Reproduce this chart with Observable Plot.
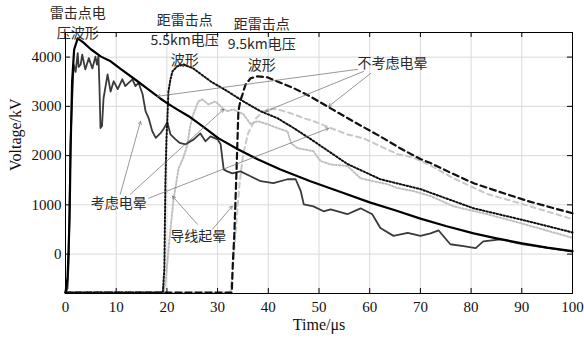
<!DOCTYPE html>
<html><head><meta charset="utf-8">
<script src="https://cdn.jsdelivr.net/npm/d3@7"></script>
<script src="https://cdn.jsdelivr.net/npm/@observablehq/plot@0.6"></script>
<style>body{margin:0;background:#fff}</style>
</head><body><div id="chart"></div>
<script>
// ---- ticks ----
const xTicks = [0,10,20,30,40,50,60,70,80,90,100];
const yTicks = [0,1000,2000,3000,4000];

// ---- 雷击点, 不考虑电晕 (black solid) ----
const strikeT = [0,0.4,0.6,0.8,1.0,1.3,1.7,2.4,3.5,5,7,8.9,11,14.2,16,18.7,20.1,22,24.3,27,30.2,34,38,42.4,48.3,54,60,65,70,75,80.5,85,90,95,100];
const strikeV = [-780,-480,60,730,2100,3500,4150,4380,4300,4160,4010,3915,3750,3510,3370,3160,3060,2940,2800,2600,2350,2130,1920,1720,1480,1270,1050,890,720,570,420,320,220,130,60];

// ---- 雷击点, 考虑电晕 (dark noisy) ----
const strikeCT = [0,0.4,0.6,0.8,1.0,1.3,1.6,2.0,2.4,2.6,3.0,3.3,3.9,4.6,5.3,5.9,6.2,6.5,6.7,6.9,7.2,7.5,8.3,8.9,9.5,10.3,11.2,11.8,12.4,13.2,13.8,14.4,15.2,15.8,16.4,17.1,17.8,18.7,19.4,20.1,20.7,21.7,22.5,23.7,25.3,26.6,27.6,28.6,30,30.6,31.2,31.9,32.9,34.5,36.5,38.5,41,43.8,45.4,46.4,47,48.9,50.9,52.3,55.6,58.2,60.5,62.1,64.7,67.5,70,72,73.6,75.9,78.5,80.9,82.4,85.8,90,95,100];
const strikeCV = [-780,-700,-200,1000,2300,3100,3850,3700,4080,3800,3850,4050,3750,3980,3770,4010,3850,4020,3400,2560,2600,3160,3650,3300,3510,3350,3550,3410,3470,3550,3410,3480,3250,2900,2760,2500,2360,2450,2550,2680,2430,2330,2260,2230,2330,2450,2290,2390,2330,2230,1720,1680,1640,1680,1580,1480,1440,1520,1520,1280,1010,970,870,910,810,930,810,530,370,430,370,420,480,200,160,120,260,300,205,125,50];

// ---- 5.5 km, 不考虑电晕 (black dotted) ----
const d55T = [0,19.2,19.5,19.7,19.9,20.1,20.3,20.7,21.1,22,23.3,25.2,28.6,31.9,35.1,38.5,41.8,45,48.3,55.6,62.1,70,80.5,91.1,100];
const d55V = [-780,-780,-300,1420,2300,2760,3300,3550,3710,3810,3850,3770,3510,3310,3100,2900,2760,2560,2340,1830,1520,1320,930,670,440];

// ---- 9.5 km, 不考虑电晕 (black dashed) ----
const d95T = [0,32.8,33.0,33.3,33.7,34.1,34.5,34.9,35.5,36.5,37.9,39.8,42.4,45,48.3,52.3,57,62.1,66,70,72,76,80.5,86,91.1,96,100];
const d95V = [-780,-780,-200,400,1600,2900,3120,3240,3440,3570,3610,3590,3480,3370,3200,2960,2680,2390,2150,1930,1850,1650,1440,1250,1080,940,830];

// ---- 5.5 km, 考虑电晕 (light dotted) ----
const c55T = [0,19.4,19.8,20.5,21.3,22.3,23.2,24,24.6,25.2,26.2,27,28.2,29.6,31,31.9,33.1,35.1,36.5,37.9,39.8,41.8,43.8,44.5,45.8,48.9,50.3,52.3,55.6,58.2,60.7,63.5,65.5,68.6,72,76.5,83.2,89.7,100];
const c55V = [-780,-780,-500,300,1100,1740,1950,2200,2600,2840,3100,3140,3040,3100,2960,2900,2940,2840,2640,2700,2640,2560,2490,2250,2150,2090,1890,1820,1790,1540,1480,1420,1340,1280,1180,970,810,630,330];

// ---- 9.5 km, 考虑电晕 (light dashed) ----
const c95T = [0,32.5,33,33.6,34.3,35,36,37.5,39,41,42.5,44.4,47,48.9,52.3,55.6,58.8,62.1,65.5,68.6,72,76.5,83.2,89.7,100];
const c95V = [-780,-780,-300,500,1400,2000,2450,2750,2900,2950,2920,2860,2760,2700,2560,2430,2350,2190,2030,1960,1800,1540,1220,1030,710];

// ---- annotation text lines ----
const noteText = ["雷击点电", "压波形", "距雷击点", "5.5km电压", "波形", "距雷击点", "9.5km电压", "波形", "不考虑电晕", "考虑电晕", "导线起晕"];
const noteX = [2.4, 2.4, 23.5, 23.5, 23.5, 38.7, 38.7, 38.7, 64.5, 10.5, 26.2];
const noteY = [4886, 4480, 4744, 4338, 3931, 4662, 4246, 3830, 3873, 1034, 365];

// ---- annotation arrows (from label to curve) ----
const arrowX1 = [57.6, 58.8, 60.2, 10.8, 12.8, 16.4, 26.0, 29.0];
const arrowY1 = [3752, 3711, 3670, 1217, 1217, 1136, 608, 507];
const arrowX2 = [18.1, 39.5, 51.9, 14.8, 31.2, 51.9, 21.1, 32.9];
const arrowY2 = [3204, 2900, 3000, 2697, 2941, 2555, 1176, 973];

function series(t, v) { return t.map((d, i) => ({t: d, v: v[i]})); }
const notes = noteText.map((s, i) => ({s, x: noteX[i], y: noteY[i]}));
const arrows = arrowX1.map((d, i) => ({x1: d, y1: arrowY1[i], x2: arrowX2[i], y2: arrowY2[i]}));

const W = 584, H = 340, mL = 65, mR = 12, mT = 32, mB = 47;
const innerW = W - mL - mR, innerH = H - mT - mB;
const serif = "'Liberation Serif', 'Times New Roman', serif";
const cjk = "'Noto Sans CJK SC', sans-serif";

const chart = Plot.plot({
  width: W, height: H,
  marginLeft: mL, marginRight: mR, marginTop: mT, marginBottom: mB,
  style: {fontFamily: serif, fontSize: "15px", background: "#fff", color: "#111", overflow: "visible"},
  x: {domain: [0, 100], ticks: xTicks},
  y: {domain: [-800, 4500], ticks: yTicks},
  marks: [
    Plot.gridX(xTicks, {stroke: "#dadada", strokeOpacity: 1}),
    Plot.gridY(yTicks, {stroke: "#dadada", strokeOpacity: 1}),
    Plot.line(series(c95T, c95V), {x: "t", y: "v", stroke: "#c8c8c8", strokeWidth: 2, strokeDasharray: "5,4"}),
    Plot.line(series(c55T, c55V), {x: "t", y: "v", stroke: "#c0c0c0", strokeWidth: 2, strokeDasharray: "1.5,2"}),
    Plot.line(series(strikeCT, strikeCV), {x: "t", y: "v", stroke: "#3a3a3a", strokeWidth: 1.8}),
    Plot.line(series(d95T, d95V), {x: "t", y: "v", stroke: "#111", strokeWidth: 2.2, strokeDasharray: "6,4"}),
    Plot.line(series(d55T, d55V), {x: "t", y: "v", stroke: "#111", strokeWidth: 2, strokeDasharray: "1.5,2"}),
    Plot.line(series(strikeT, strikeV), {x: "t", y: "v", stroke: "#000", strokeWidth: 2.2}),
    Plot.arrow(arrows, {x1: "x1", y1: "y1", x2: "x2", y2: "y2", stroke: "#6a6a6a", strokeWidth: 0.7, headLength: 7, insetEnd: 0}),
    Plot.text(notes, {x: "x", y: "y", text: "s", fontFamily: cjk, fontSize: 14, fill: "#2a2a2a"}),
    Plot.frame({stroke: "#000", strokeWidth: 1}),
    Plot.tickX(xTicks, {x: d => d, insetTop: innerH - 5, stroke: "#000"}),
    Plot.tickX(xTicks, {x: d => d, insetBottom: innerH - 5, stroke: "#000"}),
    Plot.tickY(yTicks, {y: d => d, insetRight: innerW - 5, stroke: "#000"}),
    Plot.tickY(yTicks, {y: d => d, insetLeft: innerW - 5, stroke: "#000"}),
    Plot.axisX(xTicks, {tickSize: 0, tickPadding: 8, fontSize: 15, label: null, tickFormat: d => String(d)}),
    Plot.axisY(yTicks, {tickSize: 0, tickPadding: 4, fontSize: 15, label: null, tickFormat: d => String(d)}),
    Plot.text(["Time/μs"], {frameAnchor: "bottom", dy: 36, text: d => d, fontSize: 16, fontFamily: serif}),
    Plot.text(["Voltage/kV"], {frameAnchor: "left", dx: -50, dy: 8, rotate: -90, text: d => d, fontSize: 16, fontFamily: serif})
  ]
});
document.getElementById("chart").appendChild(chart);
</script>
</body></html>
